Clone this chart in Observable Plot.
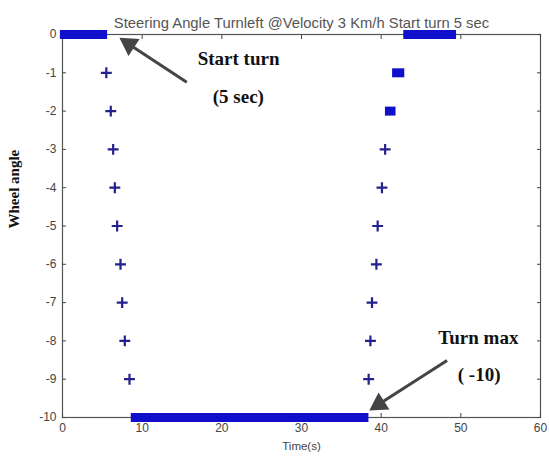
<!DOCTYPE html>
<html><head><meta charset="utf-8">
<script src="https://cdn.jsdelivr.net/npm/d3@7"></script>
<script src="https://cdn.jsdelivr.net/npm/@observablehq/plot@0.6"></script>
<style>body{margin:0;background:#fff}</style>
</head><body><div id="chart"></div>
<script>
const xTicks = [0, 10, 20, 30, 40, 50, 60];
const yTicks = [0, -1, -2, -3, -4, -5, -6, -7, -8, -9, -10];
// continuous runs of samples at one angle (dense "+" markers)
const runAngle = [0, -10, 0, -1, -2];
const runStart = [0.3, 9.2, 43.4, 42.0, 41.1];
const runEnd = [5.1, 37.9, 48.9, 42.4, 41.3];
// isolated samples
const sampleTime = [5.5, 6.06, 6.36, 6.57, 6.86, 7.28, 7.49, 7.82, 8.41, 38.43, 38.65, 38.85, 39.4, 39.56, 40.1, 40.5];
const sampleAngle = [-1, -2, -3, -4, -5, -6, -7, -8, -9, -9, -8, -7, -6, -5, -4, -3];
const titleText = "Steering Angle Turnleft @Velocity 3 Km/h Start turn 5 sec";
const noteText = ["Start turn", "(5 sec)", "Turn max", "( -10)"];
const noteX = [22.1, 22.07, 52.2, 52.3];
const noteY = [-0.8, -1.8, -8.08, -9.05];
const arrowX1 = [15.6, 48.27];
const arrowY1 = [-1.245, -8.51];
const arrowX2 = [7.78, 39.15];
const arrowY2 = [-0.175, -9.73];

const W = 549, H = 459, ML = 62, MR = 9, MT = 34, MB = 42;
const runs = runAngle.map((a, i) => ({a, t0: runStart[i], t1: runEnd[i]}));
const samples = sampleTime.map((t, i) => ({t, a: sampleAngle[i]}));
const notes = noteText.map((s, i) => ({s, x: noteX[i], y: noteY[i]}));
// pixel helpers (same linear mapping as the plot scales) for arrowhead orientation
const kx = (W - ML - MR) / 60, ky = (H - MT - MB) / 10;
const arrows = arrowX1.map((x1, i) => {
  const x2 = arrowX2[i], y2 = arrowY2[i], y1 = arrowY1[i];
  const dxp = (x2 - x1) * kx, dyp = -(y2 - y1) * ky;
  const len = Math.hypot(dxp, dyp);
  const ux = dxp / len, uy = dyp / len;
  const back = 9; // px from tip to head centre
  return {
    x1, y1,
    x2: x2 - (ux * back * 1.2) / kx, y2: y2 + (uy * back * 1.2) / ky,
    hx: x2 - (ux * back * 0.62) / kx, hy: y2 + (uy * back * 0.62) / ky,
    rot: Math.atan2(ux, -uy) * 180 / Math.PI
  };
});

const fmt = d => String(d);
const chart = Plot.plot({
  width: W,
  height: H,
  marginLeft: ML,
  marginRight: MR,
  marginTop: MT,
  marginBottom: MB,
  style: {fontFamily: "Liberation Sans, Arial, sans-serif", fontSize: "12px", color: "#444", background: "#fff"},
  x: {domain: [0, 60]},
  y: {domain: [-10, 0]},
  marks: [
    Plot.frame({stroke: "#555", strokeWidth: 1.2}),
    Plot.axisX(xTicks, {anchor: "bottom", tickSize: -4, tickPadding: 10, tickFormat: fmt, label: null}),
    Plot.axisX(xTicks, {anchor: "top", tickSize: -4, tickFormat: () => "", label: null}),
    Plot.axisY(yTicks, {anchor: "left", tickSize: -4, tickPadding: 10, tickFormat: fmt, label: null}),
    Plot.axisY(yTicks, {anchor: "right", tickSize: -4, tickFormat: () => "", label: null}),
    Plot.ruleY(runs, {y: "a", x1: "t0", x2: "t1", stroke: "#1010cc", strokeWidth: 9, strokeLinecap: "square"}),
    Plot.dot(samples, {x: "t", y: "a", symbol: "plus", r: 3.6, stroke: "#22228c", strokeWidth: 2.2}),
    Plot.link(arrows, {x1: "x1", y1: "y1", x2: "x2", y2: "y2", stroke: "#444", strokeWidth: 3}),
    Plot.dot(arrows, {x: "hx", y: "hy", rotate: "rot", symbol: "triangle", r: 7.5, fill: "#444", stroke: "none"}),
    Plot.text(notes, {x: "x", y: "y", text: "s", lineAnchor: "bottom", fontFamily: "Liberation Serif, Times New Roman, serif", fontWeight: "bold", fontSize: 19, fill: "#111"}),
    Plot.text([titleText], {frameAnchor: "top", dy: -17, fontSize: 14.8, fill: "#555"}),
    Plot.text(["Time(s)"], {frameAnchor: "bottom", dy: 32, fontSize: 11.5, fill: "#444"}),
    Plot.text(["Wheel angle"], {frameAnchor: "left", dx: -48, dy: 2.5, rotate: -90, fontFamily: "Liberation Serif, Times New Roman, serif", fontWeight: "bold", fontSize: 15, fill: "#111"})
  ]
});
document.getElementById("chart").append(chart);
</script>
</body></html>
